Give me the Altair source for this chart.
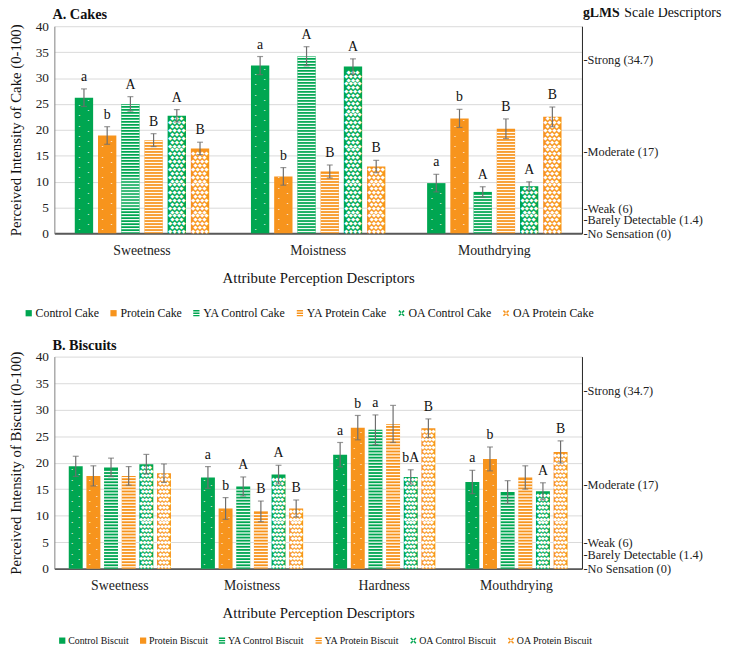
import altair as alt
import pandas as pd
import numpy as np

SERIF = "Liberation Serif"
GREEN = "#00a651"
ORANGE = "#f7941d"

# ---------------- data ----------------
cake_attrs = ["Sweetness", "Moistness", "Mouthdrying"]
cake_conds = ["Control Cake", "Protein Cake", "YA Control Cake",
              "YA Protein Cake", "OA Control Cake", "OA Protein Cake"]
cake_values = {
    "Control Cake":    [26.2, 32.4, 9.7],
    "Protein Cake":    [18.9, 11.0, 22.2],
    "YA Control Cake": [25.0, 34.2, 8.0],
    "YA Protein Cake": [18.0, 11.95, 20.2],
    "OA Control Cake": [22.7, 32.2, 9.1],
    "OA Protein Cake": [16.4, 12.9, 22.5],
}
cake_errors = {
    "Control Cake":    [1.7, 1.75, 1.7],
    "Protein Cake":    [1.7, 1.7, 1.75],
    "YA Control Cake": [1.4, 1.85, 1.0],
    "YA Protein Cake": [1.25, 1.25, 1.9],
    "OA Control Cake": [1.2, 1.5, 0.85],
    "OA Protein Cake": [1.2, 1.2, 1.9],
}
cake_letters = {
    "Control Cake":    ["a", "a", "a"],
    "Protein Cake":    ["b", "b", "b"],
    "YA Control Cake": ["A", "A", "A"],
    "YA Protein Cake": ["B", "B", "B"],
    "OA Control Cake": ["A", "A", "A"],
    "OA Protein Cake": ["B", "B", "B"],
}

bisc_attrs = ["Sweetness", "Moistness", "Hardness", "Mouthdrying"]
bisc_conds = ["Control Biscuit", "Protein Biscuit", "YA Control Biscuit",
              "YA Protein Biscuit", "OA Control Biscuit", "OA Protein Biscuit"]
bisc_values = {
    "Control Biscuit":    [19.3, 17.2, 21.5, 16.35],
    "Protein Biscuit":    [17.5, 11.35, 26.6, 20.7],
    "YA Control Biscuit": [19.1, 15.5, 26.2, 14.45],
    "YA Protein Biscuit": [17.5, 10.8, 27.3, 17.2],
    "OA Control Biscuit": [19.7, 17.75, 17.3, 14.6],
    "OA Protein Biscuit": [18.0, 11.35, 26.5, 22.0],
}
bisc_errors = {
    "Control Biscuit":    [1.9, 2.05, 2.3, 2.2],
    "Protein Biscuit":    [1.9, 2.05, 2.3, 2.25],
    "YA Control Biscuit": [1.75, 1.8, 2.8, 2.15],
    "YA Protein Biscuit": [1.75, 1.95, 3.5, 2.2],
    "OA Control Biscuit": [1.85, 1.75, 1.35, 1.6],
    "OA Protein Biscuit": [1.75, 1.6, 1.75, 2.1],
}
bisc_letters = {
    "Control Biscuit":    ["", "a", "a", "a"],
    "Protein Biscuit":    ["", "b", "b", "b"],
    "YA Control Biscuit": ["", "A", "a", ""],
    "YA Protein Biscuit": ["", "B", "", ""],
    "OA Control Biscuit": ["", "A", "bA", "A"],
    "OA Protein Biscuit": ["", "B", "B", "B"],
}

glms_values = [0, 1.4, 6, 17, 34.7]
glms_names = ["No Sensation (0)", "Barely Detectable (1.4)", "Weak (6)",
              "Moderate (17)", "Strong (34.7)"]

colors = [GREEN, ORANGE, GREEN, ORANGE, GREEN, ORANGE]
kinds = ["dots", "dots", "stripes", "stripes", "lattice", "lattice"]

# custom legend symbols
SQUARE = "M-1,-1H1V1H-1Z"
LINES = "M-1,-1H1V-0.55H-1Z M-1,-0.22H1V0.22H-1Z M-1,0.55H1V1H-1Z"
CROSS = ("M-1,-0.65L-0.65,-1L1,0.65L0.65,1Z M1,-0.65L0.65,-1L-1,0.65L-0.65,1Z")
shapes = [SQUARE, SQUARE, LINES, LINES, CROSS, CROSS]


def build_df(attrs, conds, values, errors, letters):
    rows = []
    for i, c in enumerate(conds):
        for j, a in enumerate(attrs):
            v = values[c][j]
            e = errors[c][j]
            rows.append(dict(attr=a, cond=c, kind=kinds[i], col=colors[i], value=v,
                             lo=v - e, hi=v + e, letter=letters[c][j]))
    return pd.DataFrame(rows)


def pattern_df(df, kind, step):
    rows = []
    for _, r in df[df.kind == kind].iterrows():
        k = 0
        y = step * 0.6
        while y < r.value - step * 0.35:
            rows.append(dict(attr=r.attr, cond=r.cond, y=y, par=k % 2))
            y += step
            k += 1
    return pd.DataFrame(rows)


def panel(attrs, conds, df, w, h, pin, pout, bar_w, title, ytitle,
          title_pad, legend_x, legend_y, legend_font, col_pad, show_glms, dot_dx, lat_dx):
    xs = alt.X("attr:N", sort=attrs,
               scale=alt.Scale(domain=attrs, paddingInner=pin, paddingOuter=pout),
               axis=alt.Axis(title="Attribute Perception Descriptors", labelAngle=0,
                             labelFontSize=14, titleFontSize=15, titleFontWeight="normal",
                             ticks=False, domainColor="#595959", domainWidth=2,
                             labelPadding=10, titlePadding=14, labelColor="#222",
                             titleColor="#111"))
    xo = alt.XOffset("cond:N", sort=conds,
                     scale=alt.Scale(domain=conds, paddingInner=0.21, paddingOuter=0))

    bars = alt.Chart(df).mark_bar().encode(
        x=xs, xOffset=xo,
        y=alt.Y("value:Q", scale=alt.Scale(domain=[0, 40], nice=False),
                axis=alt.Axis(title=ytitle, values=list(range(0, 41, 5)),
                              labelFontSize=13.5, titleFontSize=15,
                              titleFontWeight="normal", ticks=False,
                              domainColor="#7f7f7f", gridColor="#d9d9d9",
                              labelPadding=6, titlePadding=title_pad,
                              labelColor="#222", titleColor="#111")),
        fill=alt.Fill("col:N", scale=None),
    )
    layers = [bars]

    # stripes on YA bars
    sdf = pattern_df(df, "stripes", 0.58)
    layers.append(alt.Chart(sdf).mark_tick(color="white", thickness=1.3, size=bar_w,
                                           opacity=0.95).encode(
        x="attr:N", xOffset="cond:N", y=alt.Y("y:Q", axis=None)))

    # dots on control / protein bars
    ddf = pattern_df(df, "dots", 1.0)
    for par, dx in [(0, -dot_dx), (1, dot_dx)]:
        layers.append(alt.Chart(ddf).transform_filter(f"datum.par == {par}")
                      .mark_text(text="•", color="white", fontSize=4, dx=dx,
                                 font="DejaVu Sans", baseline="middle").encode(
            x="attr:N", xOffset="cond:N", y=alt.Y("y:Q", axis=None)))

    # lattice on OA bars
    ldf = pattern_df(df, "lattice", 0.75)
    for par, dxs in [(0, lat_dx[0]), (1, lat_dx[1])]:
        for dx in dxs:
            layers.append(alt.Chart(ldf).transform_filter(f"datum.par == {par}")
                          .mark_text(text="◆", color="white", fontSize=5.5, dx=dx,
                                     font="DejaVu Sans", baseline="middle").encode(
                x="attr:N", xOffset="cond:N", y=alt.Y("y:Q", axis=None)))

    # error bars
    label_expr = "{" + ",".join(f"'{v}':'-{n}'" for v, n in zip(glms_values, glms_names)) + "}[datum.value]"
    right_axis = alt.Axis(orient="right", title=None, values=glms_values,
                          labelExpr=label_expr, grid=False, ticks=False,
                          domainColor="#222", labelPadding=1, labelFontSize=12.5,
                          labelColor="#222", labelFont=SERIF, labelOverlap=False,
                          labelBaseline={"condition": [
                              {"test": "datum.value == 1.4", "value": "bottom"},
                              {"test": "datum.value == 0", "value": "middle"}],
                              "value": "top"})
    layers.append(alt.Chart(df).mark_rule(color="#6e6e6e", strokeWidth=1.2).encode(
        x="attr:N", xOffset="cond:N",
        y=alt.Y("lo:Q", axis=right_axis), y2="hi:Q"))
    for f in ["lo", "hi"]:
        layers.append(alt.Chart(df).mark_tick(color="#6e6e6e", thickness=1.2, size=6).encode(
            x="attr:N", xOffset="cond:N", y=alt.Y(f"{f}:Q", axis=None)))

    # significance letters
    layers.append(alt.Chart(df).mark_text(dy=-12, fontSize=14, font=SERIF,
                                          color="#111", baseline="middle").encode(
        x="attr:N", xOffset="cond:N", y=alt.Y("hi:Q", axis=None), text="letter:N"))

    # legend (pattern-like symbols); invisible points carry the legend
    leg = alt.Legend(title=None, orient="none", legendX=legend_x, legendY=legend_y,
                     direction="horizontal", columns=6, symbolSize=40,
                     labelFont=SERIF, labelFontSize=legend_font, labelColor="#111",
                     columnPadding=col_pad, labelOffset=1, symbolStrokeWidth=0,
                     symbolOpacity=1)
    layers.append(alt.Chart(df).mark_point(filled=True, size=0, opacity=1).encode(
        x="attr:N", xOffset="cond:N", y=alt.Y("value:Q", axis=None),
        color=alt.Color("cond:N", scale=alt.Scale(domain=conds, range=colors), legend=leg),
        shape=alt.Shape("cond:N", scale=alt.Scale(domain=conds, range=shapes), legend=leg)))

    # panel heading
    layers.append(alt.Chart(pd.DataFrame({"t": [title]})).mark_text(
        align="left", baseline="middle", fontSize=14.5, fontWeight="bold", font=SERIF,
        color="#111").encode(x=alt.value(-2), y=alt.value(-11), text="t:N"))
    if show_glms:
        layers.append(alt.Chart(pd.DataFrame({"t": ["gLMS"]})).mark_text(
            align="left", baseline="middle", fontSize=14, fontWeight="bold", font=SERIF,
            color="#111").encode(x=alt.value(w + 1), y=alt.value(-13), text="t:N"))
        layers.append(alt.Chart(pd.DataFrame({"t": ["Scale Descriptors"]})).mark_text(
            align="left", baseline="middle", fontSize=14, font=SERIF,
            color="#111").encode(x=alt.value(w + 43), y=alt.value(-13), text="t:N"))

    return alt.layer(*layers).resolve_axis(y="independent").properties(width=w, height=h)


cake_df = build_df(cake_attrs, cake_conds, cake_values, cake_errors, cake_letters)
bisc_df = build_df(bisc_attrs, bisc_conds, bisc_values, bisc_errors, bisc_letters)

top = panel(cake_attrs, cake_conds, cake_df, 535, 210, 0.237, 0.116, 18.3,
            "A. Cakes", "Perceived Intensity of Cake (0-100)", 12, -32, 285, 12, 8, True,
            4.5, ([-6.75, -2.25, 2.25, 6.75], [-4.5, 0, 4.5]))
bottom = panel(bisc_attrs, bisc_conds, bisc_df, 535, 215, 0.227, 0.109, 14.5,
               "B. Biscuits", "Perceived Intensity of Biscuit (0-100)", 12, 3, 283, 10, 9, False,
               3.5, ([-5.25, -1.75, 1.75, 5.25], [-3.5, 0, 3.5]))

chart = alt.concat(top, bottom, columns=1, spacing=19).resolve_scale(
    color="independent", shape="independent", x="independent",
    xOffset="independent", y="independent"
).properties(padding={"top": -6, "left": 0, "right": 0, "bottom": 0}
).configure_view(stroke=None).configure_axis(labelFont=SERIF, titleFont=SERIF
).configure_legend(labelFont=SERIF)

chart.save("out.html", embed_options={"renderer": "svg", "actions": False})
